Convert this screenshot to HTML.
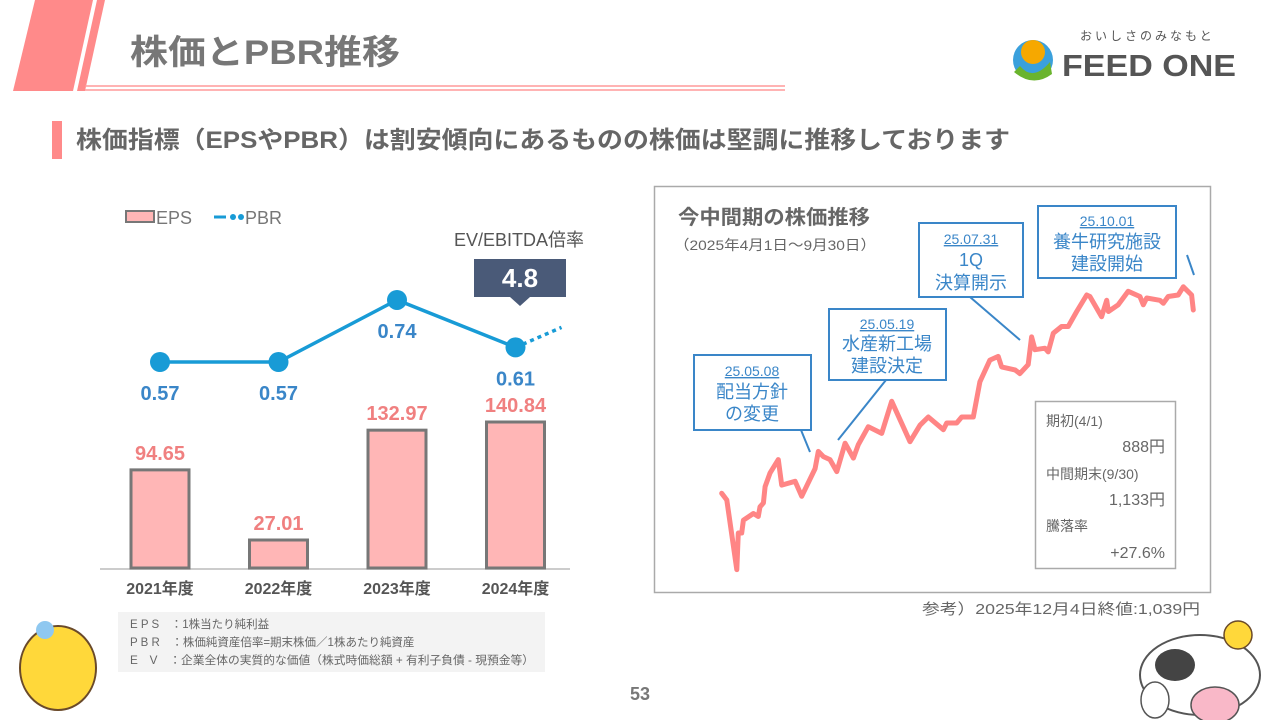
<!DOCTYPE html>
<html><head><meta charset="utf-8">
<style>
body{margin:0;width:1280px;height:720px;overflow:hidden;background:#fff;font-family:"Liberation Sans","Noto Sans CJK JP",sans-serif;position:relative}
.abs{position:absolute}
</style></head><body>
<svg class="abs" style="left:0;top:0" width="1280" height="720">
 <g>
  <polygon points="35,0 93,0 73,91 13,91" fill="#ff8a8a"/>
  <polygon points="97,0 105,0 85,91 77,91" fill="#ff8a8a"/>
  <line x1="85" y1="86" x2="785" y2="86" stroke="#ff9a9a" stroke-width="1.5"/>
  <line x1="85" y1="90" x2="785" y2="90" stroke="#ff9a9a" stroke-width="1.5"/>
 </g>
 <text x="130" y="64" font-size="34" font-weight="bold" fill="#777" textLength="270" lengthAdjust="spacingAndGlyphs">株価とPBR推移</text>
 <g>
  <circle cx="1033" cy="60" r="20" fill="#3aa0dc"/>
  <circle cx="1033" cy="52" r="12" fill="#f6a800"/>
  <path d="M1020,66 Q1033,82 1050,62 L1052,74 Q1033,88 1014,72Z" fill="#6ab42d"/>
  <text x="1062" y="76" font-size="31" font-weight="bold" fill="#555" textLength="174" lengthAdjust="spacingAndGlyphs">FEED ONE</text>
  <text x="1080" y="40" font-size="12" fill="#555" letter-spacing="3">おいしさのみなもと</text>
 </g>
 <rect x="52" y="121" width="10" height="38" fill="#ff8a8a"/>
 <text x="76" y="148" font-size="24" font-weight="bold" fill="#666" textLength="934" lengthAdjust="spacingAndGlyphs">株価指標（EPSやPBR）は割安傾向にあるものの株価は堅調に推移しております</text>

 <g>
  <rect x="126" y="211" width="28" height="11" fill="#ffb6b6" stroke="#777" stroke-width="2"/>
  <text x="156" y="224" font-size="18" fill="#777">EPS</text>
  <line x1="214" y1="217" x2="226" y2="217" stroke="#189bd6" stroke-width="3"/>
  <circle cx="233" cy="217" r="3" fill="#189bd6"/><circle cx="241" cy="217" r="3" fill="#189bd6"/>
  <text x="245" y="224" font-size="18" fill="#777">PBR</text>
 </g>
 <g id="barChart"></g>
 <g>
  <text x="519" y="246" font-size="18" fill="#555" text-anchor="middle">EV/EBITDA倍率</text>
  <polygon points="474,259 566,259 566,297 530,297 520,306 510,297 474,297" fill="#4a5a78"/>
  <text x="520" y="287" font-size="26" font-weight="bold" fill="#fff" text-anchor="middle">4.8</text>
 </g>
 <g>
  <rect x="118" y="612" width="427" height="60" fill="#f3f3f3"/>
  <text x="130" y="628" font-size="11.5" fill="#666">E P S　：1株当たり純利益</text>
  <text x="130" y="646" font-size="11.5" fill="#666">P B R　：株価純資産倍率=期末株価／1株あたり純資産</text>
  <text x="130" y="664" font-size="11.5" fill="#666" textLength="404" lengthAdjust="spacingAndGlyphs">E　V　：企業全体の実質的な価値（株式時価総額 + 有利子負債 - 現預金等）</text>
 </g>

 <rect x="654.5" y="186.5" width="556" height="406" fill="#fff" stroke="#aaa" stroke-width="1.5"/>
 <text x="678" y="224" font-size="20" font-weight="bold" fill="#666" textLength="192" lengthAdjust="spacingAndGlyphs">今中間期の株価推移</text>
 <text x="674" y="250" font-size="14" fill="#666" textLength="202" lengthAdjust="spacingAndGlyphs">（2025年4月1日～9月30日）</text>
 <g id="stockChart"></g>
 <g stroke="#3a86c8" stroke-width="2" fill="#fff">
  <line x1="801" y1="430" x2="810" y2="452"/>
  <line x1="886" y1="380" x2="838" y2="440"/>
  <line x1="970" y1="297" x2="1020" y2="340"/>
  <line x1="1187" y1="255" x2="1194" y2="275"/>
  <rect x="694" y="355" width="117" height="75"/>
  <rect x="829" y="309" width="117" height="71"/>
  <rect x="919" y="223" width="104" height="74"/>
  <rect x="1038" y="206" width="138" height="72"/>
 </g>
 <g fill="#3a86c8" text-anchor="middle">
  <text x="752" y="376" font-size="14" text-decoration="underline">25.05.08</text>
  <text x="752" y="398" font-size="18">配当方針</text>
  <text x="752" y="420" font-size="18">の変更</text>
  <text x="887" y="329" font-size="14" text-decoration="underline">25.05.19</text>
  <text x="887" y="350" font-size="18">水産新工場</text>
  <text x="887" y="372" font-size="18">建設決定</text>
  <text x="971" y="244" font-size="14" text-decoration="underline">25.07.31</text>
  <text x="971" y="266" font-size="18">1Q</text>
  <text x="971" y="289" font-size="18">決算開示</text>
  <text x="1107" y="226" font-size="14" text-decoration="underline">25.10.01</text>
  <text x="1107" y="248" font-size="18">養牛研究施設</text>
  <text x="1107" y="270" font-size="18">建設開始</text>
 </g>
 <g>
  <rect x="1035.5" y="401.5" width="140" height="167" fill="#fff" stroke="#aaa" stroke-width="1.5"/>
  <text x="1046" y="426" font-size="14" fill="#666">期初(4/1)</text>
  <text x="1165" y="452" font-size="16" fill="#666" text-anchor="end">888円</text>
  <text x="1046" y="479" font-size="14" fill="#666">中間期末(9/30)</text>
  <text x="1165" y="505" font-size="16" fill="#666" text-anchor="end">1,133円</text>
  <text x="1046" y="531" font-size="14" fill="#666">騰落率</text>
  <text x="1165" y="558" font-size="16" fill="#666" text-anchor="end">+27.6%</text>
 </g>
 <text x="1200" y="614" font-size="15" fill="#666" text-anchor="end" textLength="278" lengthAdjust="spacingAndGlyphs">参考）2025年12月4日終値:1,039円</text>
 <text x="640" y="700" font-size="18" font-weight="bold" fill="#777" text-anchor="middle">53</text>
 <g>
  <ellipse cx="58" cy="668" rx="38" ry="42" fill="#ffd83a" stroke="#6a4a2a" stroke-width="2"/>
  <circle cx="45" cy="630" r="9" fill="#8fc8f0"/>
 </g>
 <g>
  <ellipse cx="1200" cy="675" rx="60" ry="40" fill="#fff" stroke="#555" stroke-width="2"/>
  <ellipse cx="1175" cy="665" rx="20" ry="16" fill="#444"/>
  <circle cx="1238" cy="635" r="14" fill="#ffd83a" stroke="#6a4a2a" stroke-width="1.5"/>
  <ellipse cx="1215" cy="705" rx="24" ry="18" fill="#f9b8c8" stroke="#555" stroke-width="1.5"/>
  <ellipse cx="1155" cy="700" rx="14" ry="18" fill="#fff" stroke="#555" stroke-width="1.5"/>
 </g>
</svg>
<script>
const NS="http://www.w3.org/2000/svg";
function mk(tag,attrs,parent){const e=document.createElementNS(NS,tag);for(const k in attrs)e.setAttribute(k,attrs[k]);parent.appendChild(e);return e;}
const years=["2021年度","2022年度","2023年度","2024年度"];
const eps=[94.65,27.01,132.97,140.84];
const pbr=[0.57,0.57,0.74,0.61];
const epsLabels=["94.65","27.01","132.97","140.84"];
const pbrLabels=["0.57","0.57","0.74","0.61"];
const days=[0,2.7,8.0,8.8,10.6,11.5,16.8,19.4,20.3,22.1,23.0,25.6,30.0,31.8,38.9,42.4,49.5,51.2,53.9,57.4,61.0,65.4,69.8,72.4,77.7,84.8,90.1,99.8,105.1,109.5,117.5,119.3,124.6,127.2,133.4,136.9,142.2,146.6,148.4,155.5,158.1,162.5,164.3,166.1,171.4,173.1,175.8,180.2,183.7,188.2,193.5,195.2,201.4,204.1,205.0,210.2,215.5,221.7,223.5,225.3,232.3,234.1,236.7,242.0,244.7,249.1,250];
const prices=[888,879,786,835,835,852,861,857,870,875,897,915,933,899,904,884,921,944,937,933,917,955,935,953,977,968,1011,957,979,990,973,982,982,990,990,1037,1066,1071,1057,1053,1048,1060,1097,1080,1082,1077,1102,1111,1111,1131,1153,1151,1124,1146,1131,1140,1158,1151,1140,1149,1146,1142,1151,1153,1164,1153,1133];

(function(){
 const g=document.getElementById('barChart');
 const base=568, epsScale=146/140.84;
 const xc=i=>160+i*118.5;
 const yE=v=>base-v*epsScale;
 const yP=v=>362-(v-0.57)*365;
 mk('line',{x1:100,y1:base+1,x2:570,y2:base+1,stroke:'#bbb','stroke-width':1.5},g);
 eps.forEach((v,i)=>{
  const r=mk('rect',{x:xc(i)-29,y:yE(v),width:58,height:base-yE(v),fill:'#ffb6b6',stroke:'#777','stroke-width':3},g);
  
  
  const t=mk('text',{x:xc(i),y:yE(v)-10,'font-size':20,'font-weight':'bold',fill:'#f08080','text-anchor':'middle'},g);t.textContent=epsLabels[i];
  
  
  const c=mk('text',{x:xc(i),y:594,'font-size':16,'font-weight':'bold',fill:'#555','text-anchor':'middle'},g);c.textContent=years[i];
  
  
 });
 const pts=pbr.map((v,i)=>xc(i)+','+yP(v)).join(' ');
 const pl=mk('polyline',{points:pts,fill:'none',stroke:'#189bd6','stroke-width':3.5},g);
 
 
 const l=pbr.length-1;
 mk('line',{x1:xc(l),y1:yP(pbr[l]),x2:xc(l)+46,y2:yP(pbr[l])-20,stroke:'#189bd6','stroke-width':3.5,'stroke-dasharray':'4 4'},g);
 pbr.forEach((v,i)=>{
  const c=mk('circle',{cx:xc(i),cy:yP(v),r:10,fill:'#189bd6'},g);
  
  
  const t=mk('text',{x:xc(i),y:yP(v)+38,'font-size':20,'font-weight':'bold',fill:'#3a86c8','text-anchor':'middle'},g);t.textContent=pbrLabels[i];
  
  
 });
})();
(function(){
 const g=document.getElementById('stockChart');
 const x=d=>721.7+d*(1193.3-721.7)/250;
 const y=p=>493.3-(p-888)/1.3366;
 const pts=days.map((d,i)=>x(d).toFixed(1)+','+y(prices[i]).toFixed(1)).join(' ');
 const pl=mk('polyline',{points:pts,fill:'none',stroke:'#ff8585','stroke-width':5,'stroke-linejoin':'round','stroke-linecap':'round'},g);
 
 
})();
</script>
</body></html>
